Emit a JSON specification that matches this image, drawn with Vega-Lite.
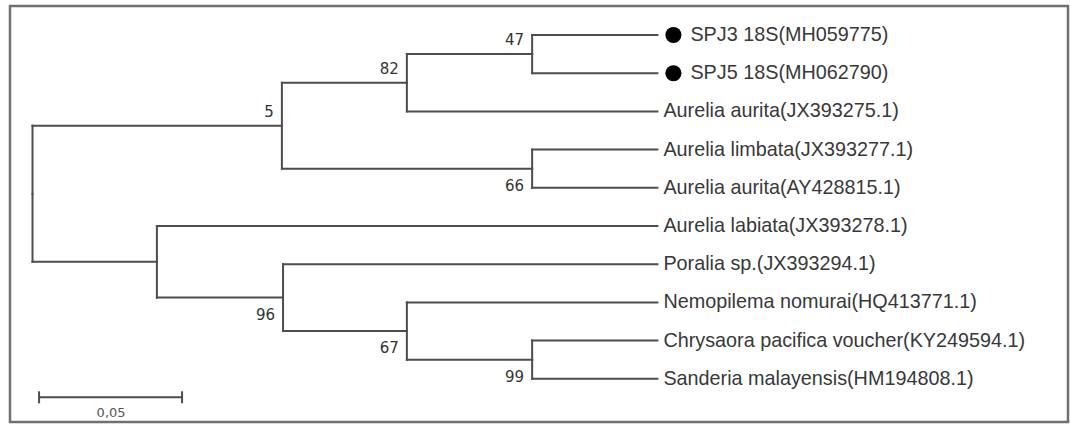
{
  "$schema": "https://vega.github.io/schema/vega-lite/v6.json",
  "width": 1070,
  "height": 425,
  "autosize": {"type": "fit", "contains": "padding"},
  "padding": {"left": 10, "top": 6, "right": 2, "bottom": 3},
  "background": "white",
  "config": {"view": {"stroke": "#707070", "strokeWidth": 2.5}},
  "datasets": {
    "nodes": [
      {"id": "root", "parent": null, "depth": 0, "pos": 4.15625},
      {"id": "n5", "parent": "root", "depth": 0.0872, "pos": 2.375, "support": 5},
      {"id": "n82", "parent": "n5", "depth": 0.1309, "pos": 1.25, "support": 82},
      {"id": "n47", "parent": "n82", "depth": 0.1747, "pos": 0.5, "support": 47},
      {"id": "SPJ3", "parent": "n47", "depth": 0.2185, "pos": 0, "label": "SPJ3 18S(MH059775)", "marked": true},
      {"id": "SPJ5", "parent": "n47", "depth": 0.2185, "pos": 1, "label": "SPJ5 18S(MH062790)", "marked": true},
      {"id": "AauJX", "parent": "n82", "depth": 0.2185, "pos": 2, "label": "Aurelia aurita(JX393275.1)", "marked": false},
      {"id": "n66", "parent": "n5", "depth": 0.1747, "pos": 3.5, "support": 66},
      {"id": "Alim", "parent": "n66", "depth": 0.2185, "pos": 3, "label": "Aurelia limbata(JX393277.1)", "marked": false},
      {"id": "AauAY", "parent": "n66", "depth": 0.2185, "pos": 4, "label": "Aurelia aurita(AY428815.1)", "marked": false},
      {"id": "nA", "parent": "root", "depth": 0.0435, "pos": 5.9375},
      {"id": "Alab", "parent": "nA", "depth": 0.2185, "pos": 5, "label": "Aurelia labiata(JX393278.1)", "marked": false},
      {"id": "n96", "parent": "nA", "depth": 0.0876, "pos": 6.875, "support": 96},
      {"id": "Por", "parent": "n96", "depth": 0.2185, "pos": 6, "label": "Poralia sp.(JX393294.1)", "marked": false},
      {"id": "n67", "parent": "n96", "depth": 0.1309, "pos": 7.75, "support": 67},
      {"id": "Nem", "parent": "n67", "depth": 0.2185, "pos": 7, "label": "Nemopilema nomurai(HQ413771.1)", "marked": false},
      {"id": "n99", "parent": "n67", "depth": 0.1747, "pos": 8.5, "support": 99},
      {"id": "Chr", "parent": "n99", "depth": 0.2185, "pos": 8, "label": "Chrysaora pacifica voucher(KY249594.1)", "marked": false},
      {"id": "San", "parent": "n99", "depth": 0.2185, "pos": 9, "label": "Sanderia malayensis(HM194808.1)", "marked": false}
    ],
    "scalebar": [
      {"start": 0.0023, "end": 0.0523, "y": 9.484, "label": "0,05"}
    ]
  },
  "layer": [
    {
      "data": {"name": "nodes"},
      "transform": [
        {"lookup": "parent", "from": {"data": {"name": "nodes"}, "key": "id", "fields": ["depth", "pos"]}, "as": ["pdepth", "ppos"]},
        {"filter": "isValid(datum.pdepth)"}
      ],
      "mark": {"type": "rule", "color": "#4d4d4d", "strokeWidth": 2, "strokeCap": "square"},
      "encoding": {
        "x": {"field": "pdepth", "type": "quantitative", "axis": null, "scale": {"domain": [-0.007867, 0.362063], "nice": false, "zero": false}},
        "x2": {"field": "depth"},
        "y": {"field": "pos", "type": "quantitative", "axis": null, "scale": {"domain": [-0.75916, 10.1309], "nice": false, "zero": false, "reverse": true}}
      }
    },
    {
      "data": {"name": "nodes"},
      "transform": [
        {"lookup": "parent", "from": {"data": {"name": "nodes"}, "key": "id", "fields": ["depth", "pos"]}, "as": ["pdepth", "ppos"]},
        {"filter": "isValid(datum.pdepth)"}
      ],
      "mark": {"type": "rule", "color": "#4d4d4d", "strokeWidth": 2, "strokeCap": "square"},
      "encoding": {
        "x": {"field": "pdepth", "type": "quantitative", "axis": null, "scale": {"domain": [-0.007867, 0.362063], "nice": false, "zero": false}},
        "y": {"field": "pos", "type": "quantitative", "axis": null, "scale": {"domain": [-0.75916, 10.1309], "nice": false, "zero": false, "reverse": true}},
        "y2": {"field": "ppos"}
      }
    },
    {
      "data": {"name": "nodes"},
      "transform": [{"filter": "isValid(datum.label) && !datum.marked"}],
      "mark": {"type": "text", "align": "left", "baseline": "middle", "dx": 6, "font": "Liberation Sans", "fontSize": 19.8, "color": "#383838"},
      "encoding": {
        "x": {"field": "depth", "type": "quantitative", "axis": null, "scale": {"domain": [-0.007867, 0.362063], "nice": false, "zero": false}},
        "y": {"field": "pos", "type": "quantitative", "axis": null, "scale": {"domain": [-0.75916, 10.1309], "nice": false, "zero": false, "reverse": true}},
        "text": {"field": "label"}
      }
    },
    {
      "data": {"name": "nodes"},
      "transform": [{"filter": "datum.marked === true"}],
      "mark": {"type": "text", "align": "left", "baseline": "middle", "dx": 33, "font": "Liberation Sans", "fontSize": 19.8, "color": "#383838"},
      "encoding": {
        "x": {"field": "depth", "type": "quantitative", "axis": null, "scale": {"domain": [-0.007867, 0.362063], "nice": false, "zero": false}},
        "y": {"field": "pos", "type": "quantitative", "axis": null, "scale": {"domain": [-0.75916, 10.1309], "nice": false, "zero": false, "reverse": true}},
        "text": {"field": "label"}
      }
    },
    {
      "data": {"name": "nodes"},
      "transform": [{"filter": "datum.marked === true"}],
      "mark": {"type": "point", "filled": true, "opacity": 1, "size": 260, "color": "#000000", "xOffset": 16},
      "encoding": {
        "x": {"field": "depth", "type": "quantitative", "axis": null, "scale": {"domain": [-0.007867, 0.362063], "nice": false, "zero": false}},
        "y": {"field": "pos", "type": "quantitative", "axis": null, "scale": {"domain": [-0.75916, 10.1309], "nice": false, "zero": false, "reverse": true}}
      }
    },
    {
      "data": {"name": "nodes"},
      "transform": [
        {"lookup": "parent", "from": {"data": {"name": "nodes"}, "key": "id", "fields": ["pos"]}, "as": ["ppos"]},
        {"filter": "isValid(datum.support) && datum.pos < datum.ppos"}
      ],
      "mark": {"type": "text", "align": "right", "baseline": "middle", "dx": -8, "dy": -14, "font": "DejaVu Sans", "fontSize": 15, "color": "#333333"},
      "encoding": {
        "x": {"field": "depth", "type": "quantitative", "axis": null, "scale": {"domain": [-0.007867, 0.362063], "nice": false, "zero": false}},
        "y": {"field": "pos", "type": "quantitative", "axis": null, "scale": {"domain": [-0.75916, 10.1309], "nice": false, "zero": false, "reverse": true}},
        "text": {"field": "support"}
      }
    },
    {
      "data": {"name": "nodes"},
      "transform": [
        {"lookup": "parent", "from": {"data": {"name": "nodes"}, "key": "id", "fields": ["pos"]}, "as": ["ppos"]},
        {"filter": "isValid(datum.support) && datum.pos > datum.ppos"}
      ],
      "mark": {"type": "text", "align": "right", "baseline": "middle", "dx": -8, "dy": 17, "font": "DejaVu Sans", "fontSize": 15, "color": "#333333"},
      "encoding": {
        "x": {"field": "depth", "type": "quantitative", "axis": null, "scale": {"domain": [-0.007867, 0.362063], "nice": false, "zero": false}},
        "y": {"field": "pos", "type": "quantitative", "axis": null, "scale": {"domain": [-0.75916, 10.1309], "nice": false, "zero": false, "reverse": true}},
        "text": {"field": "support"}
      }
    },
    {
      "data": {"name": "scalebar"},
      "mark": {"type": "rule", "color": "#4d4d4d", "strokeWidth": 2},
      "encoding": {
        "x": {"field": "start", "type": "quantitative", "axis": null, "scale": {"domain": [-0.007867, 0.362063], "nice": false, "zero": false}},
        "x2": {"field": "end"},
        "y": {"field": "y", "type": "quantitative", "axis": null, "scale": {"domain": [-0.75916, 10.1309], "nice": false, "zero": false, "reverse": true}}
      }
    },
    {
      "data": {"name": "scalebar"},
      "transform": [{"fold": ["start", "end"], "as": ["end_name", "end_value"]}],
      "mark": {"type": "tick", "orient": "vertical", "size": 12, "thickness": 2, "color": "#4d4d4d", "opacity": 1},
      "encoding": {
        "x": {"field": "end_value", "type": "quantitative", "axis": null, "scale": {"domain": [-0.007867, 0.362063], "nice": false, "zero": false}},
        "y": {"field": "y", "type": "quantitative", "axis": null, "scale": {"domain": [-0.75916, 10.1309], "nice": false, "zero": false, "reverse": true}}
      }
    },
    {
      "data": {"name": "scalebar"},
      "mark": {"type": "text", "align": "center", "baseline": "middle", "dx": 72, "dy": 16, "font": "DejaVu Sans", "fontSize": 13, "color": "#555555"},
      "encoding": {
        "x": {"field": "start", "type": "quantitative", "axis": null, "scale": {"domain": [-0.007867, 0.362063], "nice": false, "zero": false}},
        "y": {"field": "y", "type": "quantitative", "axis": null, "scale": {"domain": [-0.75916, 10.1309], "nice": false, "zero": false, "reverse": true}},
        "text": {"field": "label"}
      }
    }
  ]
}
